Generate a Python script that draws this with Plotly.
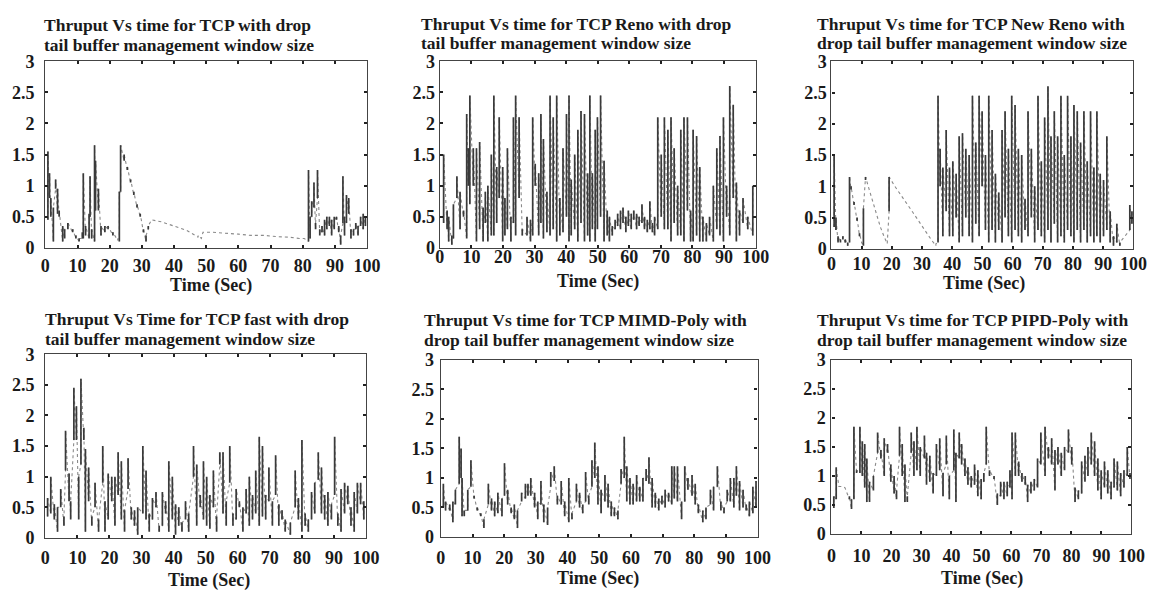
import plotly.graph_objects as go

W, H = 1174, 603

# ---------------- data (time in s, throughput low/high per sample) ----------------
tcp_t = [0.8, 1.3, 1.7, 2.5, 3.2, 3.8, 4.3, 5.4, 6.0, 7.0, 8.5, 9.5, 10.5, 11.5, 11.8, 12.5, 13.6, 13.9, 14.4,
         15.3, 15.6, 16.5, 17.3, 18.5, 19.5, 21.0, 22.5, 23.0, 23.4, 24.5, 25.5, 26.5, 27.5, 28.5, 29.5, 30.5,
         31.3, 32.0, 33.0, 36.0, 40.0, 44.0, 47.5, 48.5, 49.0, 52.0, 56.0, 60.0, 64.0, 68.0, 72.0, 76.0, 79.0,
         80.5, 81.8, 82.3, 82.8, 83.5, 84.0, 84.6, 85.3, 86.0, 86.8, 87.5, 88.3, 89.0, 89.8, 90.5, 91.2, 91.8,
         92.5, 93.0, 93.6, 94.3, 95.0, 95.8, 96.5, 97.2, 98.0, 98.8, 99.5]
tcp_lo = [0.45, 0.8, 0.5, 0.1, 0.95, 0.55, 0.5, 0.1, 0.15, 0.3, 0.25, 0.15, 0.1, 0.15, 0.15, 0.2, 0.15, 0.5, 0.15,
          0.1, 0.6, 0.6, 0.2, 0.25, 0.3, 0.2, 0.12, 0.1, 0.9, 1.4, 1.25, 1.05, 0.85, 0.65, 0.5, 0.25,
          0.1, 0.3, 0.45, 0.42, 0.35, 0.28, 0.17, 0.15, 0.25, 0.25, 0.24, 0.22, 0.2, 0.2, 0.18, 0.17, 0.15,
          0.15, 0.1, 0.15, 0.5, 0.65, 0.3, 0.8, 0.2, 0.25, 0.2, 0.3, 0.35, 0.2, 0.3, 0.45, 0.25, 0.05,
          0.4, 0.2, 0.4, 0.55, 0.15, 0.2, 0.3, 0.2, 0.35, 0.3, 0.35]
tcp_hi = [1.55, 1.2, 0.8, 0.65, 1.1, 0.95, 0.6, 0.35, 0.3, 0.4, 0.3, 0.2, 0.15, 0.25, 1.2, 0.35, 0.55, 1.15, 0.3,
          1.65, 1.4, 0.95, 0.35, 0.35, 0.35, 0.25, 0.15, 0.9, 1.65, 1.5, 1.3, 1.1, 0.9, 0.7, 0.55, 0.3,
          0.2, 0.35, 0.45, 0.42, 0.35, 0.28, 0.2, 0.15, 0.25, 0.25, 0.24, 0.22, 0.2, 0.2, 0.18, 0.17, 0.15,
          0.15, 1.25, 0.5, 0.75, 1.05, 0.4, 1.25, 0.3, 0.35, 0.45, 0.5, 0.5, 0.45, 0.5, 0.5, 0.35, 0.2,
          1.15, 0.5, 0.85, 0.8, 0.3, 0.3, 0.4, 0.35, 0.5, 0.55, 0.5]

reno_t = [1.2, 2.3, 2.8, 3.8, 4.3, 5.4, 6.4, 7.5, 8.5, 9.0, 9.5, 10.6, 11.6, 12.6, 13.7, 14.4, 15.2, 16.3, 17.1,
          18.0, 18.8, 19.9, 20.6, 21.4, 22.5, 23.3, 24.0, 25.1, 26.1, 27.6, 28.7, 29.4, 30.2, 31.3, 32.0, 32.8,
          33.9, 34.9, 35.9, 37.0, 38.0, 39.0, 40.1, 40.9, 41.6, 42.7, 43.7, 44.7, 45.8, 46.8, 47.5, 48.3, 49.2,
          49.9, 50.9, 52.0, 53.0, 53.7, 54.6, 55.5, 56.3, 57.2, 58.0, 58.9, 59.7, 60.6, 61.4, 62.3, 63.1, 64.0,
          64.8, 65.7, 66.5, 67.3, 68.0, 69.0, 70.1, 71.1, 72.2, 73.2, 74.2, 75.3, 76.3, 77.3, 78.4, 79.4, 80.2,
          81.3, 82.3, 83.3, 84.4, 85.4, 86.6, 87.7, 88.7, 89.8, 90.8, 91.8, 92.9, 93.9, 94.9, 96.0, 97.5, 99.1]
reno_lo = [0.4, 0.3, 0.1, 0.05, 0.15, 0.8, 0.3, 0.5, 0.15, 1.0, 0.7, 1.0, 0.1, 0.3, 0.1, 0.4, 0.1, 0.2, 0.2,
           0.4, 0.8, 0.1, 0.2, 0.3, 0.1, 0.4, 0.2, 0.8, 0.2, 0.2, 0.1, 0.2, 1.0, 0.2, 0.4, 0.15,
           0.25, 0.2, 0.3, 0.1, 0.2, 0.25, 0.5, 0.1, 0.2, 0.3, 0.1, 0.4, 0.1, 0.2, 0.1, 0.3, 0.1,
           0.3, 0.5, 0.1, 0.2, 0.1, 0.2, 0.3, 0.35, 0.3, 0.4, 0.25, 0.35, 0.3, 0.45, 0.3, 0.35, 0.4,
           0.3, 0.25, 0.3, 0.25, 0.2, 0.3, 0.5, 0.3, 0.3, 0.1, 0.4, 0.2, 0.2, 0.1, 0.6, 0.1, 0.1,
           0.2, 0.1, 0.1, 0.1, 0.2, 0.1, 0.3, 0.2, 0.1, 0.5, 0.2, 0.8, 0.1, 0.2, 0.4, 0.3, 0.2]
reno_hi = [1.5, 0.6, 0.5, 0.2, 0.7, 1.15, 0.9, 0.6, 2.15, 1.6, 2.45, 1.6, 1.6, 1.7, 0.65, 0.9, 1.0, 1.5, 2.45,
           1.3, 2.1, 1.3, 0.8, 1.6, 0.5, 2.1, 2.45, 2.1, 0.3, 0.5, 0.45, 2.1, 1.35, 1.2, 2.15, 1.75,
           0.9, 2.45, 2.1, 2.45, 0.8, 1.6, 2.15, 2.45, 1.1, 1.5, 1.9, 2.2, 2.15, 1.2, 2.45, 1.2, 1.9,
           2.1, 2.45, 1.4, 0.6, 0.5, 0.35, 0.45, 0.55, 0.6, 0.65, 0.5, 0.6, 0.55, 0.6, 0.55, 0.5, 0.7,
           0.5, 0.45, 0.75, 0.4, 0.5, 2.1, 1.5, 2.1, 1.9, 2.1, 1.6, 1.0, 1.9, 2.1, 2.1, 0.6, 1.9,
           1.8, 1.3, 0.5, 0.4, 0.5, 1.0, 1.6, 1.8, 2.1, 1.0, 2.6, 2.3, 1.05, 0.6, 0.8, 0.5, 1.0]

newreno_t = [0.9, 1.5, 2.2, 3.0, 3.8, 4.6, 5.4, 6.0, 6.5, 7.5, 8.5, 9.3, 10.0, 10.6, 11.3, 12.5, 13.7, 15.0,
             16.2, 17.4, 18.5, 19.1, 21.0, 23.0, 25.0, 27.0, 29.0, 31.0, 33.0, 34.6, 35.3, 36.0, 36.9, 38.0,
             39.1, 40.2, 41.3, 42.3, 43.4, 44.5, 45.6, 46.7, 47.8, 48.9, 49.9, 51.0, 52.1, 53.2, 54.3, 55.4,
             56.5, 57.5, 58.6, 59.7, 60.8, 61.9, 63.0, 64.1, 65.1, 66.2, 67.3, 68.4, 69.5, 70.6, 71.7, 72.7,
             73.8, 74.9, 76.0, 77.1, 78.2, 79.3, 80.3, 81.4, 82.5, 83.6, 84.7, 85.8, 86.9, 87.9, 89.0, 90.1,
             91.2, 92.3, 93.4, 94.5, 95.5, 98.8, 99.5]
newreno_lo = [0.35, 0.3, 0.1, 0.1, 0.15, 0.1, 0.05, 0.1, 0.95, 0.7, 0.45, 0.2, 0.1, 0.05, 1.1, 0.95, 0.75, 0.55,
              0.35, 0.2, 0.08, 0.6, 1.0, 0.85, 0.72, 0.58, 0.43, 0.3, 0.15, 0.05, 0.1, 1.0, 0.2, 0.6,
              0.2, 0.2, 0.5, 0.1, 0.2, 0.5, 0.2, 0.1, 0.4, 0.2, 1.0, 0.3, 0.1, 0.3, 0.1, 0.3,
              0.1, 0.5, 0.2, 0.1, 0.3, 0.2, 0.1, 0.3, 0.2, 0.5, 0.1, 0.3, 0.2, 0.1, 0.3, 0.1,
              0.4, 0.1, 0.2, 0.1, 0.3, 0.2, 0.1, 0.3, 0.1, 0.3, 0.1, 0.2, 0.1, 0.2, 0.1, 0.2,
              0.3, 0.1, 0.05, 0.1, 0.05, 0.3, 0.4]
newreno_hi = [1.5, 0.5, 0.2, 0.15, 0.2, 0.15, 0.1, 1.15, 1.0, 0.75, 0.5, 0.25, 0.1, 0.65, 1.15, 0.95, 0.75, 0.55,
              0.35, 0.2, 0.1, 1.15, 1.0, 0.85, 0.72, 0.58, 0.43, 0.3, 0.15, 0.08, 2.45, 1.6, 1.3, 1.9,
              1.3, 1.4, 1.2, 1.8, 1.85, 1.6, 1.5, 2.45, 1.7, 2.45, 2.2, 1.5, 2.45, 1.9, 1.2, 0.9,
              1.9, 2.2, 1.6, 2.45, 2.3, 1.6, 1.5, 0.8, 2.2, 1.6, 1.0, 2.45, 1.4, 2.1, 2.6, 1.8,
              2.2, 1.8, 2.45, 1.5, 2.45, 1.8, 2.3, 2.2, 1.7, 2.2, 1.4, 2.2, 1.3, 2.2, 1.2, 1.1,
              1.8, 0.6, 0.2, 0.4, 0.1, 0.7, 0.6]

fast_t = [0.7, 1.7, 2.8, 3.8, 4.8, 5.8, 6.3, 7.4, 7.9, 8.9, 9.7, 10.4, 11.1, 12.0, 12.5, 13.5, 14.5, 15.5, 16.6,
          17.9, 18.6, 19.6, 20.7, 21.7, 22.7, 23.7, 24.7, 25.8, 26.8, 27.8, 28.8, 30.4, 31.4, 32.4, 33.4, 34.5,
          35.5, 36.5, 37.5, 38.5, 39.6, 40.6, 41.6, 42.6, 43.7, 44.7, 46.2, 47.2, 48.3, 49.3, 50.3, 51.3, 52.4,
          53.4, 54.4, 55.4, 56.4, 57.5, 58.5, 59.5, 60.5, 61.6, 62.6, 63.6, 64.6, 65.6, 66.7, 67.7, 68.7, 69.7,
          70.8, 71.8, 72.8, 73.8, 74.8, 76.4, 77.9, 78.9, 80.0, 81.0, 82.0, 83.0, 84.0, 85.1, 86.1, 87.1, 88.1,
          89.2, 90.2, 91.2, 92.2, 93.3, 94.3, 95.3, 96.3, 97.3, 98.3, 99.3]
fast_lo = [0.35, 0.4, 0.3, 0.1, 0.5, 0.2, 1.1, 0.6, 0.3, 1.6, 1.6, 0.3, 1.2, 1.6, 0.1, 0.6, 0.2, 0.5, 0.1,
           0.9, 0.1, 0.3, 0.6, 0.2, 0.7, 0.3, 0.1, 0.8, 0.3, 0.2, 0.05, 0.4, 0.3, 0.1, 0.3, 0.5,
           0.1, 0.2, 0.4, 0.1, 0.3, 0.05, 0.2, 0.1, 0.3, 0.1, 1.0, 0.2, 0.5, 0.3, 0.2, 0.15, 0.5,
           0.1, 1.2, 0.4, 0.2, 0.9, 0.2, 0.3, 0.5, 0.1, 0.4, 0.2, 0.3, 0.4, 0.2, 0.35, 0.3, 0.6,
           0.2, 0.7, 0.2, 0.3, 0.1, 0.05, 0.5, 0.3, 0.1, 0.2, 0.1, 0.3, 0.4, 0.95, 0.4, 0.3, 0.2,
           0.3, 0.7, 0.2, 0.1, 0.4, 0.55, 0.2, 0.1, 0.4, 0.55, 0.3]
fast_hi = [0.65, 1.0, 0.55, 0.5, 0.8, 0.35, 1.75, 1.05, 0.6, 2.45, 2.15, 1.0, 2.6, 1.8, 1.45, 1.15, 0.35, 0.9, 0.3,
           1.5, 0.6, 1.05, 1.0, 1.0, 1.4, 1.25, 0.45, 1.3, 0.5, 0.45, 0.5, 1.5, 1.1, 0.4, 0.65, 0.75,
           0.2, 0.75, 0.6, 1.25, 1.0, 0.55, 0.5, 0.25, 0.6, 0.4, 1.5, 1.2, 0.7, 1.25, 1.0, 0.7, 1.1,
           0.35, 1.4, 1.4, 0.6, 1.5, 0.4, 0.8, 0.6, 0.5, 0.8, 1.0, 0.7, 1.1, 1.65, 1.5, 0.7, 1.15,
           0.6, 1.35, 0.55, 0.45, 0.3, 0.25, 1.1, 0.65, 1.6, 0.4, 0.3, 0.75, 0.9, 1.4, 1.15, 0.7, 0.75,
           0.55, 1.65, 0.4, 0.8, 0.9, 0.85, 0.5, 0.75, 0.9, 0.9, 0.6]

mimd_t = [0.8, 1.5, 2.8, 3.8, 4.6, 5.8, 6.4, 6.7, 7.4, 8.5, 9.5, 10.5, 11.5, 12.6, 13.6, 15.0, 16.0, 17.0, 18.0,
          19.3, 20.1, 21.1, 22.2, 23.2, 24.2, 25.5, 26.7, 27.5, 28.4, 29.6, 30.6, 31.6, 32.5, 33.7, 34.7, 35.8,
          36.8, 38.0, 39.1, 40.4, 41.4, 42.8, 43.8, 44.8, 45.7, 46.7, 47.7, 48.6, 49.6, 50.6, 51.8, 52.8, 53.8,
          54.8, 55.9, 56.9, 57.9, 58.7, 59.7, 60.7, 61.8, 62.8, 63.8, 64.8, 65.7, 66.7, 67.7, 68.8, 69.8, 70.8,
          71.9, 72.9, 73.7, 74.7, 76.0, 77.0, 78.0, 79.3, 80.3, 81.3, 82.7, 83.7, 85.1, 86.1, 87.3, 88.4, 89.4,
          90.4, 91.4, 92.5, 93.3, 94.3, 95.4, 96.4, 97.4, 98.5, 99.5]
mimd_lo = [0.5, 0.45, 0.45, 0.25, 0.55, 0.9, 1.0, 0.35, 0.35, 0.45, 0.85, 0.65, 0.45, 0.35, 0.15, 0.55, 0.45, 0.35, 0.4,
           0.35, 0.7, 0.55, 0.4, 0.3, 0.15, 0.6, 0.65, 0.7, 0.7, 0.5, 0.3, 0.55, 0.25, 0.2, 0.85, 0.95,
           0.55, 0.55, 0.35, 0.25, 0.3, 0.6, 0.5, 0.4, 0.6, 0.55, 0.85, 1.0, 0.55, 0.4, 0.6, 0.5, 0.35,
           0.35, 0.3, 0.9, 1.0, 0.6, 0.55, 0.55, 0.6, 0.6, 0.6, 0.95, 0.9, 0.5, 0.5, 0.45, 0.55, 0.5,
           0.6, 0.55, 0.65, 0.6, 0.3, 0.6, 0.8, 0.7, 0.55, 0.4, 0.25, 0.3, 0.55, 0.45, 0.85, 0.45, 0.4,
           0.6, 0.6, 0.5, 0.7, 0.45, 0.5, 0.45, 0.35, 0.4, 0.5]
mimd_hi = [0.9, 0.6, 0.55, 0.6, 0.8, 1.7, 1.5, 1.0, 0.45, 0.8, 1.3, 0.7, 0.5, 0.4, 0.3, 0.9, 0.65, 0.6, 0.75,
           0.65, 1.25, 0.8, 0.5, 0.55, 0.45, 0.75, 0.9, 0.9, 1.0, 0.75, 0.6, 0.95, 0.55, 0.5, 1.1, 1.2,
           0.7, 0.95, 0.6, 1.0, 0.4, 0.9, 0.75, 0.55, 1.1, 0.7, 1.3, 1.6, 1.2, 0.8, 1.05, 0.9, 0.6,
           0.5, 0.45, 1.15, 1.7, 1.2, 1.0, 0.9, 1.05, 0.85, 1.0, 1.15, 1.35, 1.0, 0.75, 0.65, 0.7, 0.8,
           0.75, 1.2, 1.2, 1.2, 0.6, 1.2, 1.0, 1.05, 0.9, 0.55, 0.45, 0.5, 0.8, 0.85, 1.2, 0.6, 0.5,
           0.8, 1.0, 1.0, 1.2, 0.95, 0.8, 0.55, 0.6, 0.85, 0.95]

pipd_t = [0.8, 1.6, 2.5, 3.5, 4.5, 5.1, 6.0, 6.7, 7.5, 8.4, 9.5, 10.3, 11.1, 11.8, 12.7, 14.0, 15.4, 16.5, 17.6,
          18.7, 19.8, 20.9, 21.7, 22.7, 23.6, 24.5, 25.3, 26.6, 27.5, 28.5, 29.6, 31.0, 31.7, 32.8, 33.9, 35.0,
          36.1, 37.2, 38.3, 39.3, 40.8, 41.5, 42.6, 43.4, 44.5, 45.5, 46.6, 47.7, 48.8, 49.9, 50.8, 51.6, 52.7,
          54.2, 55.3, 56.4, 57.5, 58.6, 59.5, 60.2, 61.3, 62.4, 63.5, 64.6, 65.4, 66.5, 67.6, 68.7, 69.8, 71.2,
          72.3, 73.4, 74.5, 75.5, 76.6, 77.7, 79.0, 80.1, 81.2, 82.3, 83.4, 84.5, 85.5, 86.6, 87.7, 88.8, 89.9,
          91.0, 92.1, 93.2, 94.2, 95.3, 96.4, 97.5, 98.6, 99.5]
pipd_lo = [0.45, 0.6, 0.82, 0.82, 0.8, 0.72, 0.6, 0.43, 0.6, 1.05, 1.05, 1.0, 0.8, 0.55, 0.55, 0.75, 1.4, 1.3, 1.0,
           1.4, 0.9, 0.7, 0.6, 1.35, 1.0, 0.55, 0.55, 1.4, 1.0, 1.1, 1.0, 1.3, 0.85, 0.9, 0.7, 1.0,
           1.1, 0.65, 1.2, 0.6, 1.1, 0.55, 1.3, 1.2, 1.0, 0.85, 0.8, 0.85, 0.65, 0.6, 0.9, 1.2, 1.0,
           0.95, 0.5, 0.65, 0.6, 0.65, 0.8, 0.6, 1.0, 1.0, 0.9, 0.85, 0.55, 0.7, 0.75, 0.8, 1.2, 1.0,
           1.3, 1.2, 0.75, 1.2, 1.0, 1.1, 1.4, 1.2, 0.55, 0.6, 0.7, 0.9, 1.0, 1.2, 1.0, 0.75, 0.6,
           0.8, 0.7, 0.6, 0.8, 0.75, 0.65, 0.8, 1.0, 0.95]
pipd_hi = [0.65, 1.15, 0.82, 0.82, 0.8, 0.75, 0.65, 0.6, 1.85, 1.1, 1.85, 1.6, 1.55, 1.3, 0.9, 1.0, 1.75, 1.45, 1.65,
           1.55, 1.2, 1.0, 0.75, 1.85, 1.55, 1.2, 0.65, 1.75, 1.6, 1.85, 1.5, 1.7, 1.4, 1.35, 1.05, 1.55,
           1.65, 1.05, 1.7, 1.0, 1.8, 1.4, 1.75, 1.55, 1.3, 1.15, 1.0, 1.2, 1.1, 0.95, 1.05, 1.85, 1.1,
           1.0, 0.7, 0.9, 0.9, 0.9, 1.1, 1.75, 1.75, 1.25, 1.05, 1.0, 0.85, 0.9, 0.95, 1.3, 1.75, 1.85,
           1.5, 1.65, 1.45, 1.5, 1.4, 1.5, 1.8, 1.5, 0.8, 0.75, 1.25, 1.35, 1.5, 1.75, 1.6, 1.3, 1.1,
           1.25, 1.1, 0.9, 1.3, 1.25, 1.05, 1.1, 1.5, 1.05]

titles = [
    ["Thruput Vs time for TCP with drop", "tail buffer management window size"],
    ["Thruput Vs time for TCP Reno with drop", "tail buffer management window size"],
    ["Thruput Vs time for TCP New Reno with", "drop tail buffer management window size"],
    ["Thruput Vs Time for TCP fast with drop", "tail buffer management window size"],
    ["Thruput Vs time for TCP MIMD-Poly with", "drop tail buffer management window size"],
    ["Thruput Vs time for TCP PIPD-Poly with", "drop tail buffer management window size"],
]
x_title = "Time (Sec)"
x_ticks = [0, 10, 20, 30, 40, 50, 60, 70, 80, 90, 100]
y_ticks = [0, 0.5, 1, 1.5, 2, 2.5, 3]
y_ticktext = ["0", "0.5", "1", "1.5", "2", "2.5", "3"]

series = [(tcp_t, tcp_lo, tcp_hi), (reno_t, reno_lo, reno_hi), (newreno_t, newreno_lo, newreno_hi),
          (fast_t, fast_lo, fast_hi), (mimd_t, mimd_lo, mimd_hi), (pipd_t, pipd_lo, pipd_hi)]

# ---------------- layout geometry (pixels) ----------------
boxes = [(41, 368, 53, 246), (442, 763, 53, 246), (840, 1147, 53, 247),
         (41, 367, 356, 546), (443, 765, 362, 545), (840, 1145, 362, 542)]
title_pos = [(38, 15, 36), (421, 14, 34), (823, 14, 34), (39, 320, 340), (424, 321, 341), (823, 321, 341)]
xtitle_pos = [(209, 285), (603, 281), (995, 283), (207, 590), (603, 588), (993, 588)]
x_standoff = [1, -8, -2, 3, 4, 5]
y_standoff = [6, 0, 0, 6, 2, 1]

FONT = "Liberation Serif"
INK = "#1a1a1a"

fig = go.Figure()
annotations = []
for i, ((t, lo, hi), (x0, x1, y0, y1)) in enumerate(zip(series, boxes)):
    n = "" if i == 0 else str(i + 1)
    # faint connecting path through the samples
    px, py = [], []
    for a, b, c in zip(t, lo, hi):
        px += [a, a]
        py += [b, c]
    fig.add_trace(go.Scatter(x=px, y=py, mode="lines", xaxis="x" + n, yaxis="y" + n,
                             line=dict(color="#8a8a8a", width=1.1, dash="dot"),
                             showlegend=False, hoverinfo="skip"))
    # dark near-vertical swings of each sample
    vx, vy = [], []
    for a, b, c in zip(t, lo, hi):
        if c - b > 0.04:
            vx += [a, a, None]
            vy += [b, c, None]
    fig.add_trace(go.Scatter(x=vx, y=vy, mode="lines", xaxis="x" + n, yaxis="y" + n,
                             line=dict(color="#3a3a3a", width=1.7),
                             showlegend=False, hoverinfo="skip"))
    axis_common = dict(showgrid=False, zeroline=False, showline=True, mirror="ticks",
                       linecolor="#444", linewidth=1.3, ticks="inside", ticklen=3,
                       tickcolor="#222", tickwidth=1.5,
                       tickfont=dict(family=FONT, size=18, color=INK, weight="bold"))
    fig.update_layout(**{
        "xaxis" + n: dict(domain=[x0 / W, x1 / W], range=[0, 100], tickvals=x_ticks,
                          ticktext=[str(v) for v in x_ticks], anchor="y" + n,
                          ticklabelstandoff=x_standoff[i], **axis_common),
        "yaxis" + n: dict(domain=[1 - y1 / H, 1 - y0 / H], range=[0, 3], tickvals=y_ticks,
                          ticktext=y_ticktext, anchor="x" + n,
                          ticklabelstandoff=y_standoff[i], **axis_common),
    })
    tx, ty1, ty2 = title_pos[i]
    for line, yy in zip(titles[i], (ty1, ty2)):
        annotations.append(dict(text=line, x=tx / W, y=1 - yy / H, xref="paper", yref="paper",
                                xanchor="left", yanchor="middle", showarrow=False,
                                font=dict(family=FONT, size=17.5, color=INK, weight="bold")))
    ax, ay = xtitle_pos[i]
    annotations.append(dict(text=x_title, x=ax / W, y=1 - ay / H, xref="paper", yref="paper",
                            xanchor="center", yanchor="middle", showarrow=False,
                            font=dict(family=FONT, size=18, color=INK, weight="bold")))

fig.update_layout(width=W, height=H, margin=dict(l=0, r=0, t=0, b=0),
                  paper_bgcolor="white", plot_bgcolor="white", annotations=annotations)

fig.write_html("out.html")
